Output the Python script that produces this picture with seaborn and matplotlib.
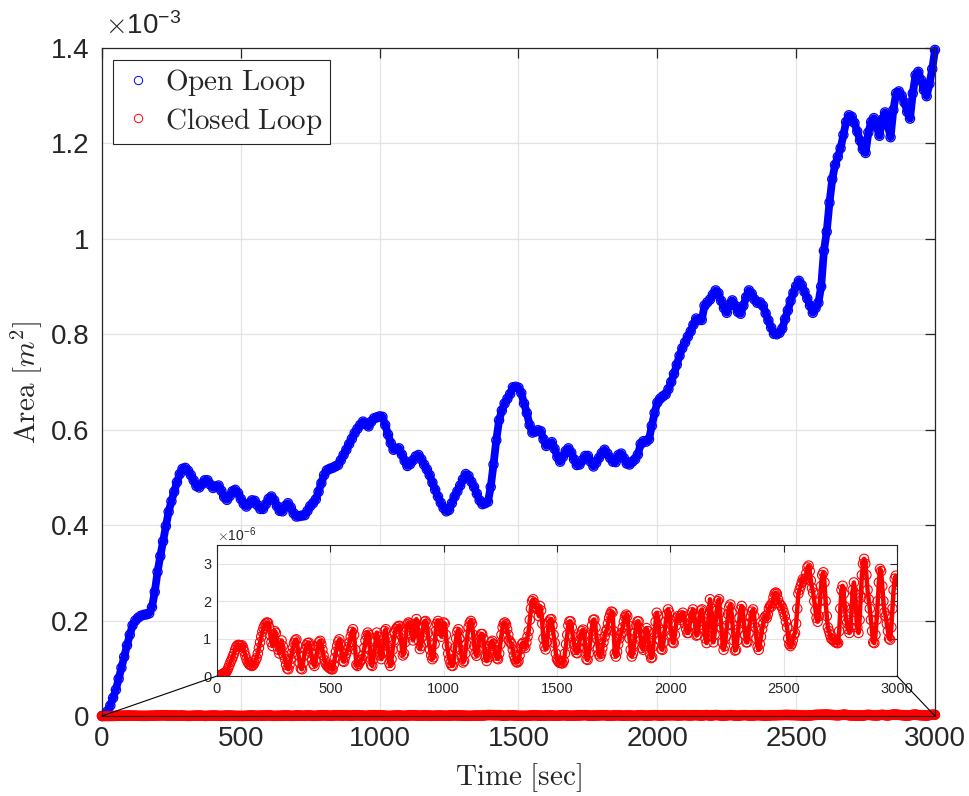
import numpy as np
import pandas as pd
import matplotlib
matplotlib.use('Agg')
import matplotlib.pyplot as plt
import seaborn as sns
from matplotlib.patches import ConnectionPatch
from matplotlib.lines import Line2D
from matplotlib.ticker import FixedLocator, FuncFormatter

# ---------------- data ----------------
# Open loop area, units of 1e-3 m^2, sampled every 10 s from 0 to 3000 s
open_area = [
    0.000, 0.002, 0.010, 0.022, 0.038, 0.055, 0.078, 0.101, 0.124, 0.148,
    0.170, 0.190, 0.200, 0.206, 0.210, 0.212, 0.213, 0.215, 0.228, 0.260,
    0.302, 0.335, 0.366, 0.398, 0.428, 0.450, 0.470, 0.490, 0.507, 0.518,
    0.520, 0.514, 0.505, 0.494, 0.482, 0.479, 0.486, 0.494, 0.494, 0.485,
    0.478, 0.481, 0.483, 0.472, 0.459, 0.453, 0.461, 0.471, 0.474, 0.467,
    0.455, 0.445, 0.439, 0.445, 0.452, 0.451, 0.442, 0.434, 0.434, 0.444,
    0.455, 0.460, 0.452, 0.440, 0.430, 0.429, 0.440, 0.446, 0.437, 0.425,
    0.418, 0.419, 0.420, 0.421, 0.430, 0.440, 0.446, 0.454, 0.470, 0.488,
    0.505, 0.515, 0.518, 0.520, 0.523, 0.526, 0.536, 0.547, 0.558, 0.570,
    0.581, 0.593, 0.602, 0.610, 0.617, 0.612, 0.607, 0.617, 0.624, 0.626,
    0.628, 0.627, 0.610, 0.590, 0.572, 0.558, 0.560, 0.561, 0.548, 0.535,
    0.524, 0.528, 0.536, 0.544, 0.547, 0.538, 0.527, 0.517, 0.505, 0.489,
    0.474, 0.460, 0.447, 0.436, 0.429, 0.432, 0.446, 0.460, 0.471, 0.483,
    0.496, 0.507, 0.503, 0.491, 0.480, 0.466, 0.452, 0.444, 0.446, 0.449,
    0.480, 0.527, 0.578, 0.620, 0.640, 0.655, 0.665, 0.675, 0.689, 0.690,
    0.688, 0.677, 0.655, 0.635, 0.610, 0.594, 0.596, 0.599, 0.597, 0.580,
    0.566, 0.570, 0.574, 0.560, 0.543, 0.533, 0.543, 0.555, 0.561, 0.552,
    0.538, 0.526, 0.527, 0.536, 0.545, 0.545, 0.533, 0.523, 0.531, 0.541,
    0.551, 0.558, 0.550, 0.541, 0.533, 0.532, 0.547, 0.550, 0.540, 0.529,
    0.527, 0.533, 0.538, 0.548, 0.570, 0.576, 0.575, 0.580, 0.608, 0.635,
    0.657, 0.665, 0.670, 0.674, 0.685, 0.700, 0.717, 0.736, 0.755, 0.771,
    0.783, 0.795, 0.806, 0.820, 0.833, 0.830, 0.830, 0.860, 0.867, 0.873,
    0.883, 0.892, 0.886, 0.870, 0.855, 0.845, 0.862, 0.871, 0.860, 0.847,
    0.843, 0.860, 0.878, 0.892, 0.885, 0.873, 0.866, 0.867, 0.860, 0.844,
    0.829, 0.814, 0.801, 0.800, 0.803, 0.812, 0.832, 0.850, 0.870, 0.887,
    0.901, 0.912, 0.903, 0.889, 0.875, 0.860, 0.845, 0.855, 0.866, 0.900,
    0.975, 1.015, 1.076, 1.125, 1.155, 1.172, 1.190, 1.218, 1.245, 1.259,
    1.256, 1.243, 1.225, 1.206, 1.188, 1.180, 1.223, 1.245, 1.253, 1.235,
    1.216, 1.250, 1.265, 1.238, 1.213, 1.270, 1.305, 1.309, 1.300, 1.286,
    1.266, 1.252, 1.305, 1.343, 1.350, 1.333, 1.312, 1.299, 1.325, 1.356,
    1.396,
]

# Closed loop area, units of 1e-6 m^2, sampled every 5 s from 0 to 3000 s
closed_area = [
    0.00, 0.00, 0.01, 0.02, 0.04, 0.05, 0.07, 0.09, 0.10, 0.15, 0.22, 0.30, 0.38, 0.44, 0.52, 0.60, 0.70, 0.78, 0.82, 0.83,
    0.82, 0.80, 0.82, 0.76, 0.66, 0.55, 0.45, 0.38, 0.33, 0.30, 0.28, 0.27, 0.30, 0.35, 0.42, 0.48, 0.60, 0.75, 0.90, 1.05,
    1.18, 1.28, 1.35, 1.40, 1.43, 1.42, 1.30, 1.10, 0.90, 0.80, 1.00, 1.20, 1.15, 0.90, 0.70, 0.60, 0.75, 0.95, 0.80, 0.55,
    0.45, 0.30, 0.20, 0.18, 0.30, 0.45, 0.60, 0.75, 0.88, 0.95, 0.98, 0.80, 0.55, 0.35, 0.20, 0.18, 0.35, 0.55, 0.72, 0.82,
    0.88, 0.89, 0.80, 0.62, 0.45, 0.32, 0.27, 0.40, 0.60, 0.78, 0.90, 0.94, 0.85, 0.70, 0.55, 0.42, 0.33, 0.28, 0.25, 0.22,
    0.20, 0.18, 0.18, 0.30, 0.48, 0.65, 0.80, 0.92, 0.98, 0.85, 0.60, 0.40, 0.38, 0.50, 0.60, 0.70, 0.78, 0.90, 1.05, 1.18,
    1.25, 1.10, 0.70, 0.30, 0.27, 0.32, 0.38, 0.42, 0.45, 0.55, 0.75, 0.95, 1.08, 1.16, 1.10, 0.70, 0.30, 0.27, 0.45, 0.70,
    0.95, 1.16, 1.05, 0.80, 0.55, 0.45, 0.60, 0.95, 1.20, 1.25, 1.00, 0.65, 0.35, 0.27, 0.45, 0.70, 0.95, 1.16, 1.25, 1.30,
    1.33, 1.34, 1.10, 0.75, 0.55, 0.60, 0.90, 1.20, 1.38, 1.43, 1.40, 1.30, 1.10, 0.95, 1.15, 1.40, 1.52, 1.35, 0.95, 0.72,
    0.80, 1.05, 1.30, 1.45, 1.47, 1.40, 1.15, 0.90, 0.70, 0.55, 0.45, 0.50, 0.85, 1.20, 1.40, 1.47, 1.40, 1.20, 1.05, 1.25,
    1.43, 1.40, 1.10, 0.80, 0.60, 0.45, 0.35, 0.28, 0.27, 0.45, 0.75, 1.00, 1.18, 1.25, 1.00, 0.70, 0.50, 0.36, 0.40, 0.60,
    0.85, 1.10, 1.30, 1.42, 1.47, 1.40, 1.10, 0.80, 0.60, 0.54, 0.70, 0.90, 1.05, 1.12, 1.12, 1.00, 0.75, 0.50, 0.40, 0.50,
    0.65, 0.80, 0.90, 0.94, 0.85, 0.70, 0.55, 0.47, 0.45, 0.60, 0.85, 1.10, 1.30, 1.40, 1.43, 1.38, 1.25, 1.10, 0.95, 0.89,
    0.85, 0.70, 0.55, 0.45, 0.38, 0.36, 0.40, 0.55, 0.72, 0.85, 0.89, 0.80, 0.75, 0.90, 1.05, 1.20, 1.50, 1.80, 2.00, 2.05,
    1.95, 1.85, 1.80, 1.79, 1.60, 1.87, 1.75, 1.40, 1.00, 0.79, 0.71, 0.90, 1.20, 1.45, 1.51, 1.52, 1.35, 1.10, 0.88, 0.60,
    0.45, 0.40, 0.36, 0.35, 0.34, 0.34, 0.40, 0.60, 0.85, 1.10, 1.35, 1.46, 1.46, 1.30, 1.05, 0.85, 0.70, 0.62, 0.61, 0.75,
    0.95, 1.10, 1.20, 1.24, 1.10, 0.75, 0.45, 0.43, 0.60, 0.85, 1.10, 1.35, 1.50, 1.51, 1.30, 1.00, 0.75, 0.58, 0.52, 0.60,
    0.75, 0.90, 1.05, 1.18, 1.24, 1.40, 1.55, 1.65, 1.72, 1.70, 1.20, 0.60, 0.52, 0.65, 0.85, 1.00, 1.10, 1.15, 1.30, 1.45,
    1.58, 1.64, 1.60, 1.35, 1.00, 0.70, 0.52, 0.60, 0.85, 1.15, 1.35, 1.46, 1.46, 1.25, 0.95, 0.75, 0.70, 0.85, 1.10, 1.28,
    1.20, 0.90, 0.60, 0.48, 0.50, 0.80, 1.15, 1.45, 1.69, 1.60, 1.25, 0.95, 0.72, 0.70, 0.90, 1.20, 1.45, 1.65, 1.78, 1.70,
    1.40, 1.10, 0.90, 0.88, 1.10, 1.35, 1.55, 1.60, 1.55, 1.50, 1.62, 1.69, 1.60, 1.40, 1.25, 1.15, 1.15, 1.35, 1.55, 1.70,
    1.78, 1.65, 1.35, 1.08, 1.10, 1.35, 1.60, 1.75, 1.78, 1.55, 1.25, 1.00, 0.88, 1.20, 1.65, 2.05, 1.80, 1.30, 0.90, 1.10,
    1.45, 1.75, 2.00, 2.05, 1.70, 1.30, 0.90, 0.70, 0.80, 1.05, 1.35, 1.65, 1.85, 1.91, 1.70, 1.35, 0.95, 0.68, 0.70, 0.95,
    1.25, 1.55, 1.78, 1.87, 1.70, 1.40, 1.10, 0.90, 0.90, 1.15, 1.40, 1.60, 1.72, 1.78, 1.60, 1.30, 1.00, 0.78, 0.70, 0.85,
    1.05, 1.25, 1.40, 1.55, 1.60, 1.55, 1.65, 1.80, 1.87, 1.85, 1.95, 2.10, 2.20, 2.23, 2.20, 2.05, 1.95, 1.90, 1.87, 1.80,
    1.70, 1.60, 1.45, 1.30, 1.00, 0.85, 0.80, 0.85, 0.95, 1.10, 1.15, 1.40, 1.80, 2.20, 2.30, 2.40, 2.50, 2.59, 2.55, 2.60,
    2.75, 2.90, 2.95, 2.80, 2.55, 2.35, 2.23, 2.00, 1.75, 1.55, 1.45, 1.60, 2.00, 2.40, 2.70, 2.77, 2.50, 2.00, 1.60, 1.30,
    1.20, 1.10, 1.00, 0.97, 0.97, 0.92, 0.90, 0.88, 0.88, 1.20, 1.80, 2.30, 2.41, 2.20, 1.85, 1.50, 1.42, 1.25, 1.15, 1.30,
    1.80, 2.30, 2.50, 2.20, 1.70, 1.30, 1.15, 1.50, 2.10, 2.70, 3.00, 3.13, 3.00, 2.70, 2.30, 2.05, 1.80, 1.50, 1.20, 0.90,
    0.88, 1.10, 1.50, 2.00, 2.50, 2.86, 2.80, 2.40, 2.00, 1.70, 1.60, 1.40, 1.20, 1.00, 0.97, 1.30, 1.80, 2.30, 2.60, 2.68,
    2.45,
]

t_open = np.arange(0, 3001, 10)
t_closed = np.arange(0, 3001, 5)

x_ticks = [0, 500, 1000, 1500, 2000, 2500, 3000]
y_ticks_main = [0, 0.2, 0.4, 0.6, 0.8, 1.0, 1.2, 1.4]      # x 1e-3
y_ticks_inset = [0, 1, 2, 3]                               # x 1e-6
legend_labels = ['Open Loop', 'Closed Loop']

df_open = pd.DataFrame({'time': t_open, 'area': np.array(open_area) * 1e-3})
df_closed = pd.DataFrame({'time': t_closed, 'area': np.array(closed_area) * 1e-6})

# ---------------- style ----------------
sns.set_theme(style='white')
plt.rcParams['font.family'] = ['Liberation Sans', 'DejaVu Sans']
plt.rcParams['mathtext.fontset'] = 'cm'

DARK = '#262626'
GRID = '#e3e3e3'
BLUE = '#0000ff'
RED = '#ff0000'

fig = plt.figure(figsize=(9.7, 7.96), dpi=100)
ax = fig.add_axes([102 / 970, 1 - 716 / 796, 833 / 970, 668 / 796])


def draw_series(axis, df, color, band_lw, s=40, mlw=0.9, clip=False):
    # dense sampled trace: thick band of the same series under the open circles
    sns.lineplot(data=df, x='time', y='area', ax=axis, color=color, linewidth=band_lw,
                 estimator=None, sort=False, legend=False, clip_on=clip,
                 solid_capstyle='round', solid_joinstyle='round')
    sns.scatterplot(data=df, x='time', y='area', ax=axis, marker='o', s=s,
                    edgecolor=color, linewidth=mlw, legend=False, clip_on=clip)
    coll = axis.collections[-1]
    coll.set_facecolor('none')
    coll.set_edgecolor(color)
    coll.set_clip_on(clip)


draw_series(ax, df_open, BLUE, band_lw=5.6, s=44)
draw_series(ax, df_closed, RED, band_lw=7.0, s=44)

ax.set_xlim(0, 3000)
ax.set_ylim(0, 1.4e-3)
ax.xaxis.set_major_locator(FixedLocator(x_ticks))
ax.yaxis.set_major_locator(FixedLocator([v * 1e-3 for v in y_ticks_main]))
ax.yaxis.set_major_formatter(FuncFormatter(lambda v, p: f'{v * 1e3:g}'))
ax.grid(True, color=GRID, linewidth=0.9)
ax.set_axisbelow(True)
ax.tick_params(direction='in', top=True, right=True, length=7, width=0.9,
               colors=DARK, labelsize=20)
ax.tick_params(axis='x', pad=7)
ax.tick_params(axis='y', pad=9)
for sp in ax.spines.values():
    sp.set_color(DARK)
    sp.set_linewidth(0.9)

ax.set_xlabel(r'$\mathrm{Time\ [sec]}$', fontsize=21, color=DARK, labelpad=7)
ax.set_ylabel(r'$\mathrm{Area\ [}m^2\mathrm{]}$', fontsize=21, color=DARK, labelpad=5)

ax.text(0.004, 1.012, r'$\times\mathregular{10^{-3}}$', transform=ax.transAxes,
        fontsize=20, color=DARK, ha='left', va='bottom')

handles = [Line2D([], [], ls='', marker='o', mfc='none', mec=BLUE, ms=6, mew=0.7),
           Line2D([], [], ls='', marker='o', mfc='none', mec=RED, ms=6, mew=0.7)]
leg = ax.legend(handles, [r'$\mathrm{Open\ Loop}$', r'$\mathrm{Closed\ Loop}$'],
                loc='upper left', bbox_to_anchor=(0.013, 0.982), borderaxespad=0,
                fontsize=21, frameon=True, fancybox=False, edgecolor=DARK,
                framealpha=1, handlelength=1.2, handletextpad=0.35,
                borderpad=0.25, labelspacing=0.25)
leg.get_frame().set_linewidth(0.8)
leg.set_zorder(20)

# ---------------- inset ----------------
axin = fig.add_axes([217 / 970, 1 - 676 / 796, 680 / 970, 131 / 796])
axin.set_facecolor('white')
draw_series(axin, df_closed, RED, band_lw=3.2, s=46, mlw=0.8, clip=True)
axin.set_xlim(0, 3000)
axin.set_ylim(0, 3.5e-6)
axin.xaxis.set_major_locator(FixedLocator(x_ticks))
axin.yaxis.set_major_locator(FixedLocator([v * 1e-6 for v in y_ticks_inset]))
axin.yaxis.set_major_formatter(FuncFormatter(lambda v, p: f'{v * 1e6:g}'))
axin.grid(True, color=GRID, linewidth=0.8)
axin.set_axisbelow(True)
axin.tick_params(direction='in', top=True, right=True, length=5, width=0.8,
                 colors=DARK, labelsize=10.5, pad=4)
axin.set_xlabel('')
axin.set_ylabel('')
for sp in axin.spines.values():
    sp.set_color(DARK)
    sp.set_linewidth(0.8)
axin.text(0.0, 1.01, r'$\times\mathregular{10^{-6}}$', transform=axin.transAxes,
          fontsize=10, color=DARK, ha='left', va='bottom')

for xa, xb in [((0, 0), (0, 0)), ((3000, 0), (1, 0))]:
    con = ConnectionPatch(xyA=xa, coordsA=ax.transData, xyB=xb, coordsB=axin.transAxes,
                          color='black', linewidth=0.8, zorder=10)
    fig.add_artist(con)

fig.savefig('out.png', dpi=100)
